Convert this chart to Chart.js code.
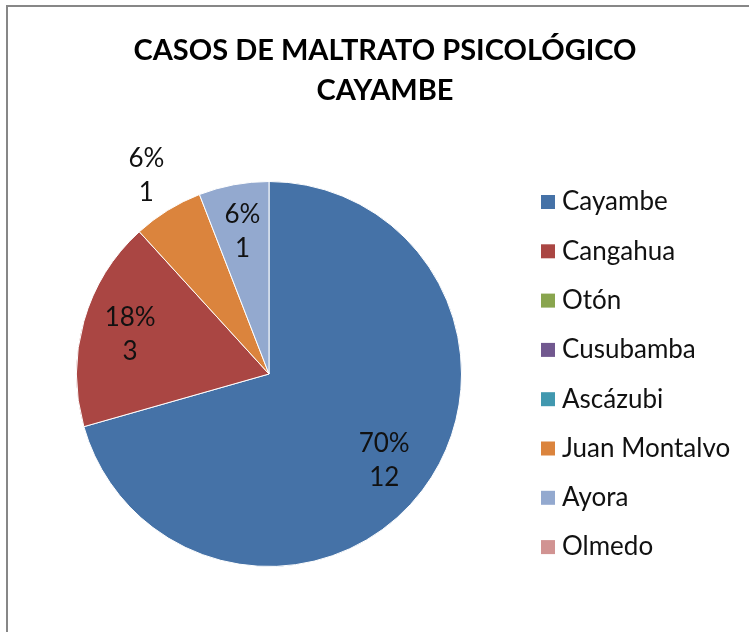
<!DOCTYPE html>
<html>
<head>
<meta charset="utf-8">
<script src="https://cdn.jsdelivr.net/npm/chart.js@4/dist/chart.umd.min.js"></script>
<style>
  body { margin: 0; background: #fff; }
  canvas { display: block; }
</style>
</head>
<body>
<canvas id="pieMaltrato" width="749" height="632"></canvas>
<script>
// datos del grafico
const parroquias = ["Cayambe", "Cangahua", "Otón", "Cusubamba", "Ascázubi", "Juan Montalvo", "Ayora", "Olmedo"];
const casos = [12, 3, 0, 0, 0, 1, 1, 0];
const porcentajes = ["70%", "18%", "0%", "0%", "0%", "6%", "6%", "0%"];
const colores = ["#4572A7", "#AA4643", "#89A54E", "#71588F", "#4198AF", "#DB843D", "#93A9CF", "#D19392"];
const titulo = ["CASOS DE MALTRATO PSICOLÓGICO", "CAYAMBE"];

const FONT = "Lato, 'Liberation Sans', sans-serif";

// marco, titulo y leyenda
const decoracion = {
  id: "decoracion",
  beforeDraw(chart) {
    const ctx = chart.ctx;
    ctx.save();
    ctx.fillStyle = "#fff";
    ctx.fillRect(0, 0, chart.width, chart.height);
    ctx.strokeStyle = "#878787";
    ctx.lineWidth = 2;
    ctx.strokeRect(7, 6, 800, 700);
    ctx.restore();
  },
  afterDraw(chart) {
    const ctx = chart.ctx;
    ctx.save();
    ctx.fillStyle = "#000";
    ctx.textAlign = "center";
    ctx.textBaseline = "middle";
    ctx.font = "bold 29px " + FONT;
    ctx.fillText(titulo[0], 385, 51);
    ctx.fillText(titulo[1], 385, 91);

    ctx.font = "26px " + FONT;
    ctx.textAlign = "left";
    parroquias.forEach((p, i) => {
      const y = 202 + i * 49.3;
      ctx.fillStyle = colores[i];
      ctx.fillRect(541, y - 7, 14, 14);
      ctx.fillStyle = "#111";
      ctx.fillText(p, 562, y);
    });
    ctx.restore();
  }
};

// etiquetas de porcentaje y valor
const etiquetas = {
  id: "etiquetas",
  afterDatasetsDraw(chart) {
    const ctx = chart.ctx;
    const meta = chart.getDatasetMeta(0);
    ctx.save();
    ctx.fillStyle = "#111";
    ctx.font = "26px " + FONT;
    ctx.textAlign = "center";
    ctx.textBaseline = "middle";
    meta.data.forEach((arc, i) => {
      if (!casos[i]) return;
      const p = arc.getProps(["x", "y", "startAngle", "endAngle", "outerRadius"], true);
      const mid = (p.startAngle + p.endAngle) / 2;
      // la etiqueta de Juan Montalvo va fuera del sector
      const frac = i === 5 ? 1.21 : 0.75;
      const x = p.x + Math.cos(mid) * p.outerRadius * frac;
      const y = p.y + Math.sin(mid) * p.outerRadius * frac;
      ctx.fillText(porcentajes[i], x, y - 17);
      ctx.fillText(String(casos[i]), x, y + 17);
    });
    ctx.restore();
  }
};

new Chart(document.getElementById("pieMaltrato"), {
  type: "pie",
  data: {
    labels: parroquias,
    datasets: [{
      data: casos,
      backgroundColor: colores,
      borderColor: "#fff",
      borderWidth: 1
    }]
  },
  options: {
    responsive: false,
    animation: false,
    layout: { padding: { left: 76, right: 287, top: 181, bottom: 65 } },
    plugins: {
      legend: { display: false },
      title: { display: false },
      tooltip: { enabled: false }
    }
  },
  plugins: [decoracion, etiquetas]
});
</script>
</body>
</html>
